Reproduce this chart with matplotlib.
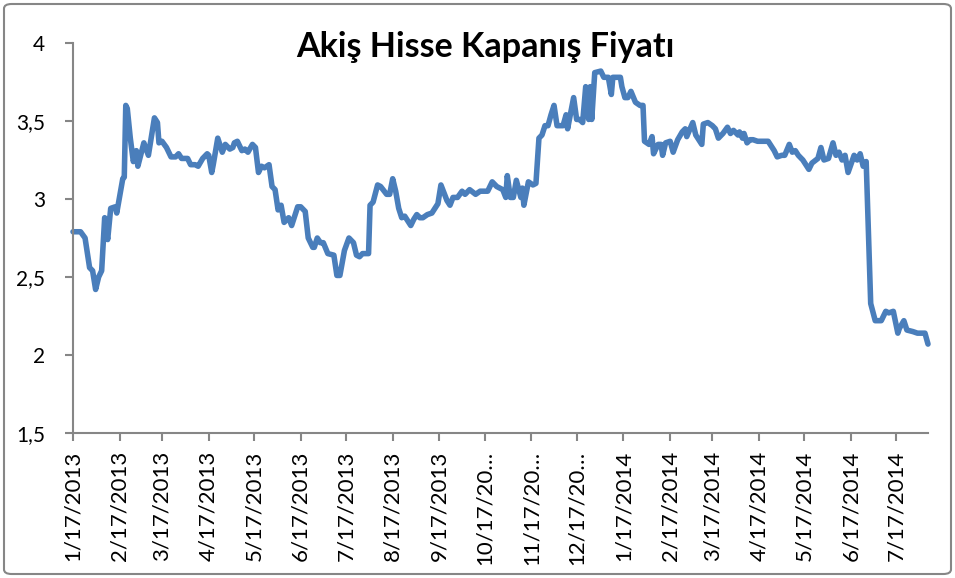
import numpy as np
import pandas as pd
import matplotlib
matplotlib.use("Agg")
import matplotlib.pyplot as plt
from matplotlib.patches import FancyBboxPatch

# --- data: days since 17 Jan 2013 and closing price ---
start = pd.Timestamp("2013-01-17")
days = [0, 5, 8, 11, 13, 15, 17, 19, 21, 23, 25, 28, 29, 33, 34, 35, 36, 38,
        40, 42, 43, 47, 50, 52, 54, 56, 57, 59, 62, 65, 68, 70, 72, 76, 78, 81,
        83, 86, 89, 90, 92, 93, 96, 99, 101, 104, 106, 107, 109, 112, 114, 116,
        119, 121, 123, 125, 127, 130, 132, 134, 136, 138, 140, 143, 145, 149,
        151, 154, 156, 159, 160, 162, 164, 166, 169, 173, 175, 177, 180, 183,
        186, 188, 190, 192, 196, 197, 199, 202, 204, 208, 210, 212, 214, 216,
        218, 220, 224, 226, 228, 230, 232, 235, 238, 242, 244, 246, 248, 250,
        252, 255, 258, 260, 263, 267, 270, 275, 278, 281, 285, 287, 288, 290,
        292, 294, 297, 298, 299, 302, 305, 307, 309, 311, 313, 315, 317, 319,
        321, 325, 327, 328, 332, 334, 336, 338, 340, 342, 343, 344, 346, 350,
        352, 355, 357, 358, 363, 364, 366, 368, 370, 373, 376, 378, 379, 382,
        384, 385, 388, 390, 391, 393, 396, 398, 401, 404, 406, 407, 411, 413,
        415, 417, 418, 421, 424, 426, 428, 431, 434, 436, 438, 441, 442, 444,
        445, 447, 449, 451, 454, 457, 461, 465, 467, 470, 472, 475, 477, 479,
        481, 484, 486, 488, 490, 494, 496, 498, 501, 504, 506, 508, 510, 512,
        514, 518, 520, 522, 524, 526, 529, 532, 536, 539, 541, 544, 547, 548,
        551, 553, 557, 560, 565, 567]
price = [2.79, 2.79, 2.75, 2.56, 2.54, 2.42, 2.50, 2.54, 2.88, 2.74, 2.94,
         2.95, 2.91, 3.13, 3.14, 3.60, 3.58, 3.39, 3.24, 3.31, 3.21, 3.36,
         3.28, 3.40, 3.52, 3.49, 3.36, 3.37, 3.33, 3.27, 3.27, 3.29, 3.26,
         3.26, 3.22, 3.22,
         3.21, 3.26, 3.29, 3.28, 3.17, 3.22, 3.39, 3.30, 3.35, 3.32, 3.33,
         3.36, 3.37, 3.31, 3.32, 3.30, 3.35, 3.33, 3.17, 3.21, 3.20, 3.22,
         3.08, 3.06, 2.93, 2.96, 2.85, 2.88, 2.83, 2.95, 2.95, 2.92, 2.75,
         2.69, 2.69, 2.75, 2.72, 2.72, 2.65, 2.64, 2.51, 2.51, 2.67, 2.75,
         2.72, 2.64, 2.63, 2.65, 2.65, 2.96, 2.98, 3.09, 3.08, 3.03, 3.03,
         3.13, 3.05, 2.94, 2.88, 2.89, 2.83, 2.87, 2.90, 2.88, 2.88, 2.90,
         2.91, 2.97, 3.09, 3.04, 2.99, 2.96, 3.01, 3.01, 3.05, 3.03, 3.06,
         3.03, 3.05, 3.05, 3.11, 3.08, 3.06, 3.01, 3.15, 3.01, 3.01, 3.12,
         3.01, 3.07, 2.96, 3.11, 3.09, 3.10, 3.39, 3.41, 3.47, 3.47, 3.54,
         3.60, 3.47, 3.47, 3.54, 3.45, 3.65, 3.51, 3.51, 3.49, 3.72, 3.51,
         3.72, 3.51, 3.81, 3.82, 3.78, 3.78, 3.67, 3.78, 3.78, 3.72, 3.65,
         3.65, 3.69, 3.62, 3.60, 3.60, 3.37, 3.35, 3.40, 3.29, 3.35, 3.35,
         3.28, 3.36, 3.37, 3.30, 3.38, 3.43, 3.45, 3.40, 3.49, 3.41, 3.38,
         3.35, 3.48, 3.49, 3.47, 3.45, 3.39, 3.42, 3.46, 3.42, 3.44, 3.41,
         3.43, 3.39, 3.42, 3.36, 3.38, 3.38, 3.37, 3.37, 3.37, 3.31, 3.27,
         3.28, 3.28, 3.35, 3.30, 3.31, 3.28, 3.25, 3.22, 3.19, 3.23, 3.26,
         3.33, 3.25, 3.26, 3.36, 3.28, 3.30, 3.25, 3.28, 3.17, 3.28, 3.25,
         3.29, 3.21, 3.24, 2.33, 2.22, 2.22, 2.28, 2.27, 2.28, 2.14, 2.17,
         2.22, 2.16, 2.15, 2.14, 2.14, 2.07]

tick_dates = pd.date_range("2013-01-01", "2014-07-01", freq="MS") + pd.Timedelta(days=16)
tick_labels = ["1/17/2013", "2/17/2013", "3/17/2013", "4/17/2013", "5/17/2013",
               "6/17/2013", "7/17/2013", "8/17/2013", "9/17/2013",
               "10/17/20\u2026", "11/17/20\u2026", "12/17/20\u2026",
               "1/17/2014", "2/17/2014", "3/17/2014", "4/17/2014", "5/17/2014",
               "6/17/2014", "7/17/2014"]
y_ticks = [1.5, 2, 2.5, 3, 3.5, 4]
y_labels = ["1,5", "2", "2,5", "3", "3,5", "4"]
title = "Akiş Hisse Kapanış Fiyatı"

dates = start + pd.to_timedelta(days, unit="D")

plt.rcParams["font.family"] = ["Lato", "DejaVu Sans"]

fig = plt.figure(figsize=(9.55, 5.78), dpi=100)
ax = fig.add_axes([73 / 955, 145 / 578, 855 / 955, 390 / 578])

ax.plot(dates, price, color="#4A7EBB", linewidth=4.0,
        solid_joinstyle="round", solid_capstyle="round", clip_on=False)

ax.set_xlim(dates[0], dates[-1])
ax.set_ylim(1.5, 4)
ax.set_yticks(y_ticks)
ax.set_yticklabels(y_labels, fontsize=15)
ax.set_xticks(tick_dates)
ax.set_xticklabels(tick_labels, rotation=90, fontsize=16, va="top", ha="center")

for side in ["top", "right"]:
    ax.spines[side].set_visible(False)
for side in ["left", "bottom"]:
    ax.spines[side].set_color("#868686")
    ax.spines[side].set_linewidth(1.5)
ax.tick_params(axis="y", length=6, width=1.5, color="#868686", pad=14)
ax.tick_params(axis="x", length=6, width=1.5, color="#868686", pad=7)

fig.text(0.508, 0.918, title, ha="center", va="center",
         fontsize=24.5, fontweight="bold")

border = FancyBboxPatch((4 / 955, 4 / 578), 947 / 955, 570 / 578,
                        boxstyle="round,pad=0,rounding_size=0.008",
                        transform=fig.transFigure, fill=False,
                        edgecolor="#868686", linewidth=1.5)
fig.patches.append(border)

fig.savefig("out.png", dpi=100)
